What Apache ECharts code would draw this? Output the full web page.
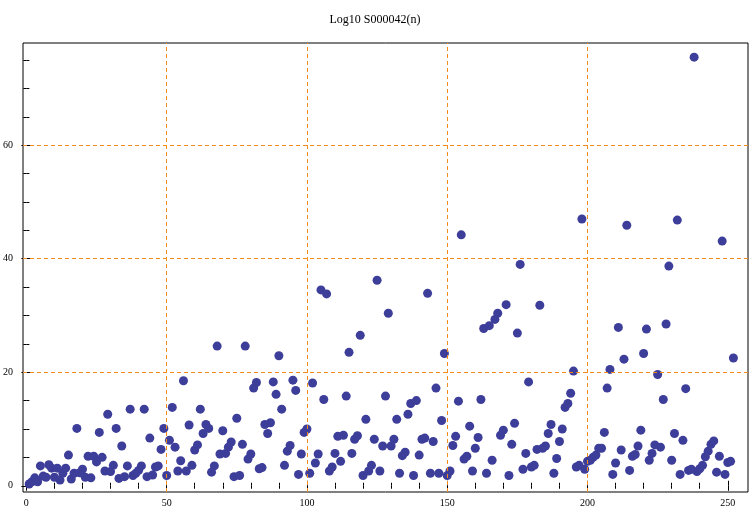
<!DOCTYPE html>
<html>
<head>
<meta charset="utf-8">
<script src="https://cdn.jsdelivr.net/npm/echarts@6/dist/echarts.min.js"></script>
<style>html,body{margin:0;padding:0;background:#fff}#c{width:750px;height:512px}</style>
</head>
<body>
<div id="c"></div>
<script>
const titleText = 'Log10 S000042(n)';
// values for n = 1, 2, 3, ...
const values = [
 0.3,0.7,1.4,0.7,3.5,1.7,1.5,3.7,3.1,1.5,
 3.1,1.0,2.2,3.1,5.4,1.2,2.2,10.1,2.3,2.9,
 1.5,5.2,1.4,5.2,4.2,9.4,5.0,2.6,12.6,2.5,
 3.6,10.1,1.3,7.0,1.6,3.5,13.5,1.8,2.2,2.7,
 3.5,13.5,1.6,8.4,1.9,3.3,3.5,6.4,10.1,1.8,
 8.0,13.8,6.8,2.6,4.4,18.5,2.6,10.7,3.6,6.3,
 7.2,13.5,9.2,10.8,10.1,2.4,3.5,24.6,5.6,9.7,
 5.7,6.8,7.7,1.6,11.9,1.8,7.3,24.6,4.7,5.6,
 17.2,18.2,3.0,3.2,10.8,9.2,11.1,18.3,16.1,22.9,
 13.5,3.6,6.1,7.1,18.6,16.8,2.0,5.6,9.4,10.0,
 2.2,18.1,4.0,5.6,34.5,15.2,33.8,2.6,3.3,5.7,
 8.7,4.3,8.9,15.8,23.5,5.7,8.2,8.8,26.5,1.8,
 11.7,2.6,3.6,8.2,36.2,2.6,7.0,15.8,30.4,7.0,
 8.2,11.7,2.2,5.3,5.9,12.6,14.5,1.8,15.0,5.4,
 8.2,8.4,33.9,2.2,7.8,17.2,2.2,11.5,23.3,1.8,
 2.6,7.1,8.7,14.9,44.2,4.7,5.2,10.5,2.6,6.6,
 8.5,15.2,27.7,2.2,28.2,4.5,29.3,30.4,8.9,9.8,
 31.9,1.8,7.3,11.0,26.9,39.0,2.9,5.7,18.3,3.3,
 3.6,6.4,31.8,6.6,7.0,9.2,10.8,2.2,4.8,7.8,
 10.0,13.8,14.5,16.3,20.2,3.3,3.6,47.0,2.9,4.3,
 4.5,5.0,5.4,6.6,6.6,9.4,17.2,20.5,2.0,4.0,
 27.9,6.3,22.3,45.9,2.7,5.2,5.5,7.0,9.8,23.3,
 27.6,4.5,5.7,7.2,19.6,6.8,15.2,28.5,38.7,4.5,
 9.2,46.8,2.0,8.0,17.1,2.7,2.9,75.5,2.5,3.0,
 3.6,5.1,6.1,7.3,7.9,2.4,5.2,43.1,2.0,4.1,
 4.3,22.5
];
const xMajorTicks = [0,50,100,150,200,250];
const xMinorTicks = [10,20,30,40,60,70,80,90,110,120,130,140,160,170,180,190,210,220,230,240];
const yMajorTicks = [0,20,40,60];
const yMinorTicks = [5,10,15,25,30,35,45,50,55,65,70,75];
const xGridLines = [50,100,150,200];
const yGridLines = [20,40,60];

const points = values.map((v,i)=>[i+1,v]);
const FONT = 'Liberation Serif';
const X_MIN = -1.2, X_MAX = 257.2, Y_MIN = -1.1, Y_MAX = 78;

function xAx(pos, ticks, len, labels){
  return {type:'value', gridIndex:0, position:pos, min:X_MIN, max:X_MAX,
    axisLine:{show:false}, splitLine:{show:false},
    axisTick:{show:true, inside:true, length:len, customValues:ticks, lineStyle:{color:'#000',width:1}},
    axisLabel: labels ? {show:true, customValues:ticks, fontFamily:FONT, fontSize:10, color:'#000', margin:6} : {show:false}};
}
function yAx(pos, ticks, len, labels){
  return {type:'value', gridIndex:0, position:pos, min:Y_MIN, max:Y_MAX,
    axisLine:{show:false}, splitLine:{show:false},
    axisTick:{show:true, inside:true, length:len, customValues:ticks, lineStyle:{color:'#000',width:1}},
    axisLabel: labels ? {show:true, customValues:ticks, fontFamily:FONT, fontSize:10, color:'#000', margin:10} : {show:false}};
}

const chart = echarts.init(document.getElementById('c'), null, {renderer:'canvas'});
chart.setOption({
  animation:false,
  backgroundColor:'#fff',
  title:{text:titleText, left:'center', top:9, textStyle:{fontFamily:FONT, fontSize:12, fontWeight:'normal', color:'#000'}},
  grid:{left:22, right:2, top:43, bottom:20, show:true, borderColor:'#000', borderWidth:1, backgroundColor:'transparent'},
  xAxis:[xAx('bottom',xMajorTicks,5,true), xAx('bottom',xMinorTicks,3,false), xAx('top',xMajorTicks,5,false), xAx('top',xMinorTicks,3,false)],
  yAxis:[yAx('left',yMajorTicks,5,true), yAx('left',yMinorTicks,3,false), yAx('right',yMajorTicks,5,false), yAx('right',yMinorTicks,3,false)],
  series:[
    {type:'scatter', xAxisIndex:0, yAxisIndex:0, data:[], z:1, silent:true,
     markLine:{silent:true, symbol:['none','none'], label:{show:false},
       lineStyle:{color:'#f28a1c', type:[4,3], width:1},
       data:[...xGridLines.map(v=>({xAxis:v})), ...yGridLines.map(v=>({yAxis:v}))]}},
    {type:'scatter', xAxisIndex:0, yAxisIndex:0, data:points, z:3, symbol:'circle', symbolSize:9,
     itemStyle:{color:'#3d3d9a', opacity:1}}
  ]
});
</script>
</body>
</html>
